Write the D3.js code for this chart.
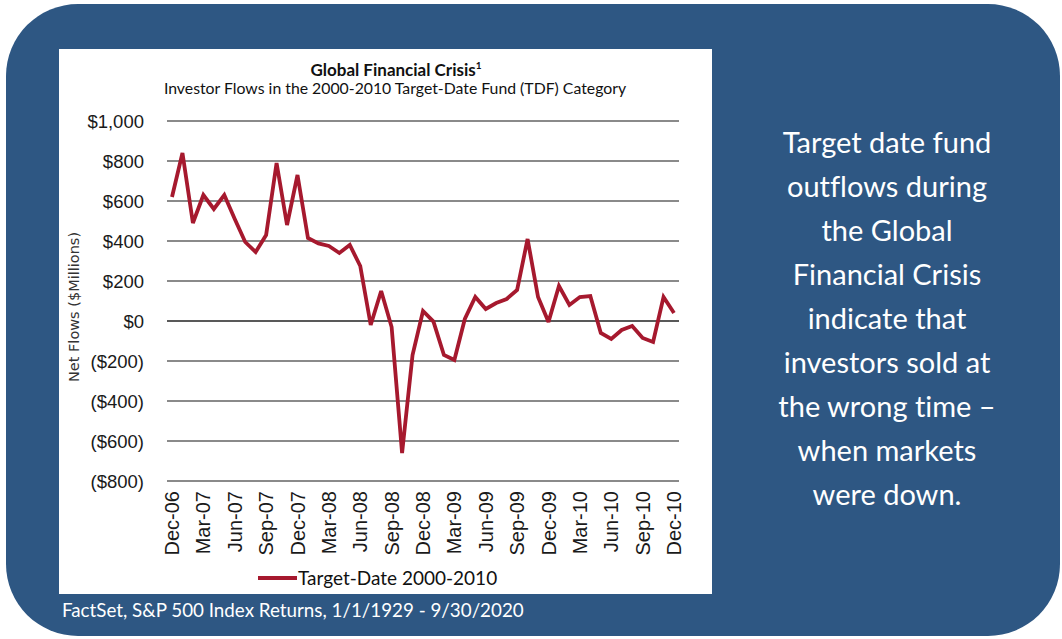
<!DOCTYPE html>
<html>
<head>
<meta charset="utf-8">
<script src="https://cdn.jsdelivr.net/npm/d3@7"></script>
<style>
  html, body { margin: 0; padding: 0; background: #ffffff; }
  svg { display: block; }
  text { font-variant-ligatures: none; font-feature-settings: "liga" 0, "clig" 0; }
</style>
</head>
<body>
<svg id="chart" width="1062" height="639"></svg>
<script>
// ---- Data ----
const months = [
  "Dec-06","Jan-07","Feb-07","Mar-07","Apr-07","May-07","Jun-07","Jul-07","Aug-07","Sep-07","Oct-07","Nov-07",
  "Dec-07","Jan-08","Feb-08","Mar-08","Apr-08","May-08","Jun-08","Jul-08","Aug-08","Sep-08","Oct-08","Nov-08",
  "Dec-08","Jan-09","Feb-09","Mar-09","Apr-09","May-09","Jun-09","Jul-09","Aug-09","Sep-09","Oct-09","Nov-09",
  "Dec-09","Jan-10","Feb-10","Mar-10","Apr-10","May-10","Jun-10","Jul-10","Aug-10","Sep-10","Oct-10","Nov-10",
  "Dec-10"
];
const flows = [
  620, 840, 490, 630, 560, 630, 510, 395, 345, 430, 790, 480,
  730, 415, 388, 375, 340, 380, 275, -20, 150, -30, -660, -170,
  50, -3, -170, -195, 10, 120, 60, 90, 110, 155, 410, 120,
  -5, 175, 80, 120, 125, -60, -90, -45, -25, -85, -105, 120,
  40
];
const tickMonths = ["Dec-06","Mar-07","Jun-07","Sep-07","Dec-07","Mar-08","Jun-08","Sep-08","Dec-08",
                    "Mar-09","Jun-09","Sep-09","Dec-09","Mar-10","Jun-10","Sep-10","Dec-10"];
const yTicks = [1000, 800, 600, 400, 200, 0, -200, -400, -600, -800];
const seriesName = "Target-Date 2000-2010";
const chartTitle = "Global Financial Crisis";
const chartSubtitle = "Investor Flows in the 2000-2010 Target-Date Fund (TDF) Category";
const yAxisTitle = "Net Flows ($Millions)";
const sideText = ["Target date fund", "outflows during", "the Global", "Financial Crisis",
                  "indicate that", "investors sold at", "the wrong time \u2013", "when markets", "were down."];
const footer = "FactSet, S&P 500 Index Returns, 1/1/1929 - 9/30/2020";

// ---- Drawing ----
const svg = d3.select("#chart");
const blue = "#2E5783";
const red = "#A6192E";
const calibriLike = "Lato, 'Open Sans', sans-serif";
const arialLike = "'Liberation Sans', Arial, sans-serif";

svg.append("rect").attr("x", 6).attr("y", 4).attr("width", 1054).attr("height", 632)
  .attr("rx", 72).attr("ry", 72).attr("fill", blue);

svg.append("rect").attr("x", 59).attr("y", 49).attr("width", 653).attr("height", 545).attr("fill", "#ffffff");

const x = d3.scalePoint().domain(months).range([172, 674]);
const y = d3.scaleLinear().domain([-800, 1000]).range([481, 121]);

// gridlines
svg.append("g").selectAll("line").data(yTicks).join("line")
  .attr("x1", 167).attr("x2", 679)
  .attr("y1", d => y(d)).attr("y2", d => y(d))
  .attr("stroke", d => d === 0 ? "#222" : "#8a8a8a")
  .attr("stroke-width", d => d === 0 ? 1.6 : 1.8);

// y axis labels
const fmt = d => {
  const s = "$" + d3.format(",")(Math.abs(d));
  return d < 0 ? "(" + s + ")" : s;
};
const yAxis = d3.axisLeft(y).tickValues(yTicks).tickFormat(fmt).tickSize(0).tickPadding(0);
const gy = svg.append("g").attr("transform", "translate(144,0)").call(yAxis);
gy.select(".domain").remove();
gy.selectAll("text").attr("font-family", arialLike).attr("font-size", 18.5).attr("fill", "#1a1a1a")
  .attr("dy", "0.35em");

// x axis labels
const xAxis = d3.axisBottom(x).tickValues(tickMonths).tickSize(0).tickPadding(0);
const gx = svg.append("g").attr("transform", "translate(0,491)").call(xAxis);
gx.select(".domain").remove();
gx.selectAll("text")
  .attr("font-family", arialLike).attr("font-size", 20).attr("fill", "#1a1a1a")
  .attr("text-anchor", "end")
  .attr("x", 0).attr("y", 0).attr("dx", 0).attr("dy", "0.35em");
gx.selectAll(".tick").attr("transform", d => `translate(${x(d)},0)`);
gx.selectAll(".tick text").attr("transform", "rotate(-90)");

// line
const line = d3.line().x((d, i) => x(months[i])).y(d => y(d));
svg.append("path").datum(flows).attr("d", line)
  .attr("fill", "none").attr("stroke", red).attr("stroke-width", 3.8)
  .attr("stroke-linejoin", "miter").attr("stroke-miterlimit", 3);

// y axis title
svg.append("text").attr("transform", "translate(79,307) rotate(-90)")
  .attr("text-anchor", "middle").attr("font-family", "'DejaVu Sans', Verdana, sans-serif")
  .attr("font-size", 14.5).attr("fill", "#333").text(yAxisTitle);

// titles
const t = svg.append("text").attr("x", 396).attr("y", 76).attr("text-anchor", "middle")
  .attr("font-family", calibriLike).attr("font-weight", "bold").attr("font-size", 17).attr("fill", "#111");
t.append("tspan").text(chartTitle);
t.append("tspan").attr("font-size", 10).attr("dy", -7).text("1");

svg.append("text").attr("x", 395).attr("y", 94).attr("text-anchor", "middle")
  .attr("font-family", calibriLike).attr("font-size", 15.8).attr("fill", "#111").text(chartSubtitle);

// legend
svg.append("line").attr("x1", 258).attr("x2", 297).attr("y1", 578).attr("y2", 578)
  .attr("stroke", red).attr("stroke-width", 4);
svg.append("text").attr("x", 298).attr("y", 585).attr("font-family", calibriLike)
  .attr("font-size", 19).attr("fill", "#111").text(seriesName);

// side text
svg.append("g").selectAll("text").data(sideText).join("text")
  .attr("x", 887).attr("y", (d, i) => 153 + i * 44)
  .attr("text-anchor", "middle").attr("font-family", calibriLike)
  .attr("font-size", 29).attr("fill", "#ffffff").text(d => d);

// footer
svg.append("text").attr("x", 62).attr("y", 617).attr("font-family", calibriLike)
  .attr("font-size", 18.8).attr("fill", "#ffffff").text(footer);
</script>
</body>
</html>
